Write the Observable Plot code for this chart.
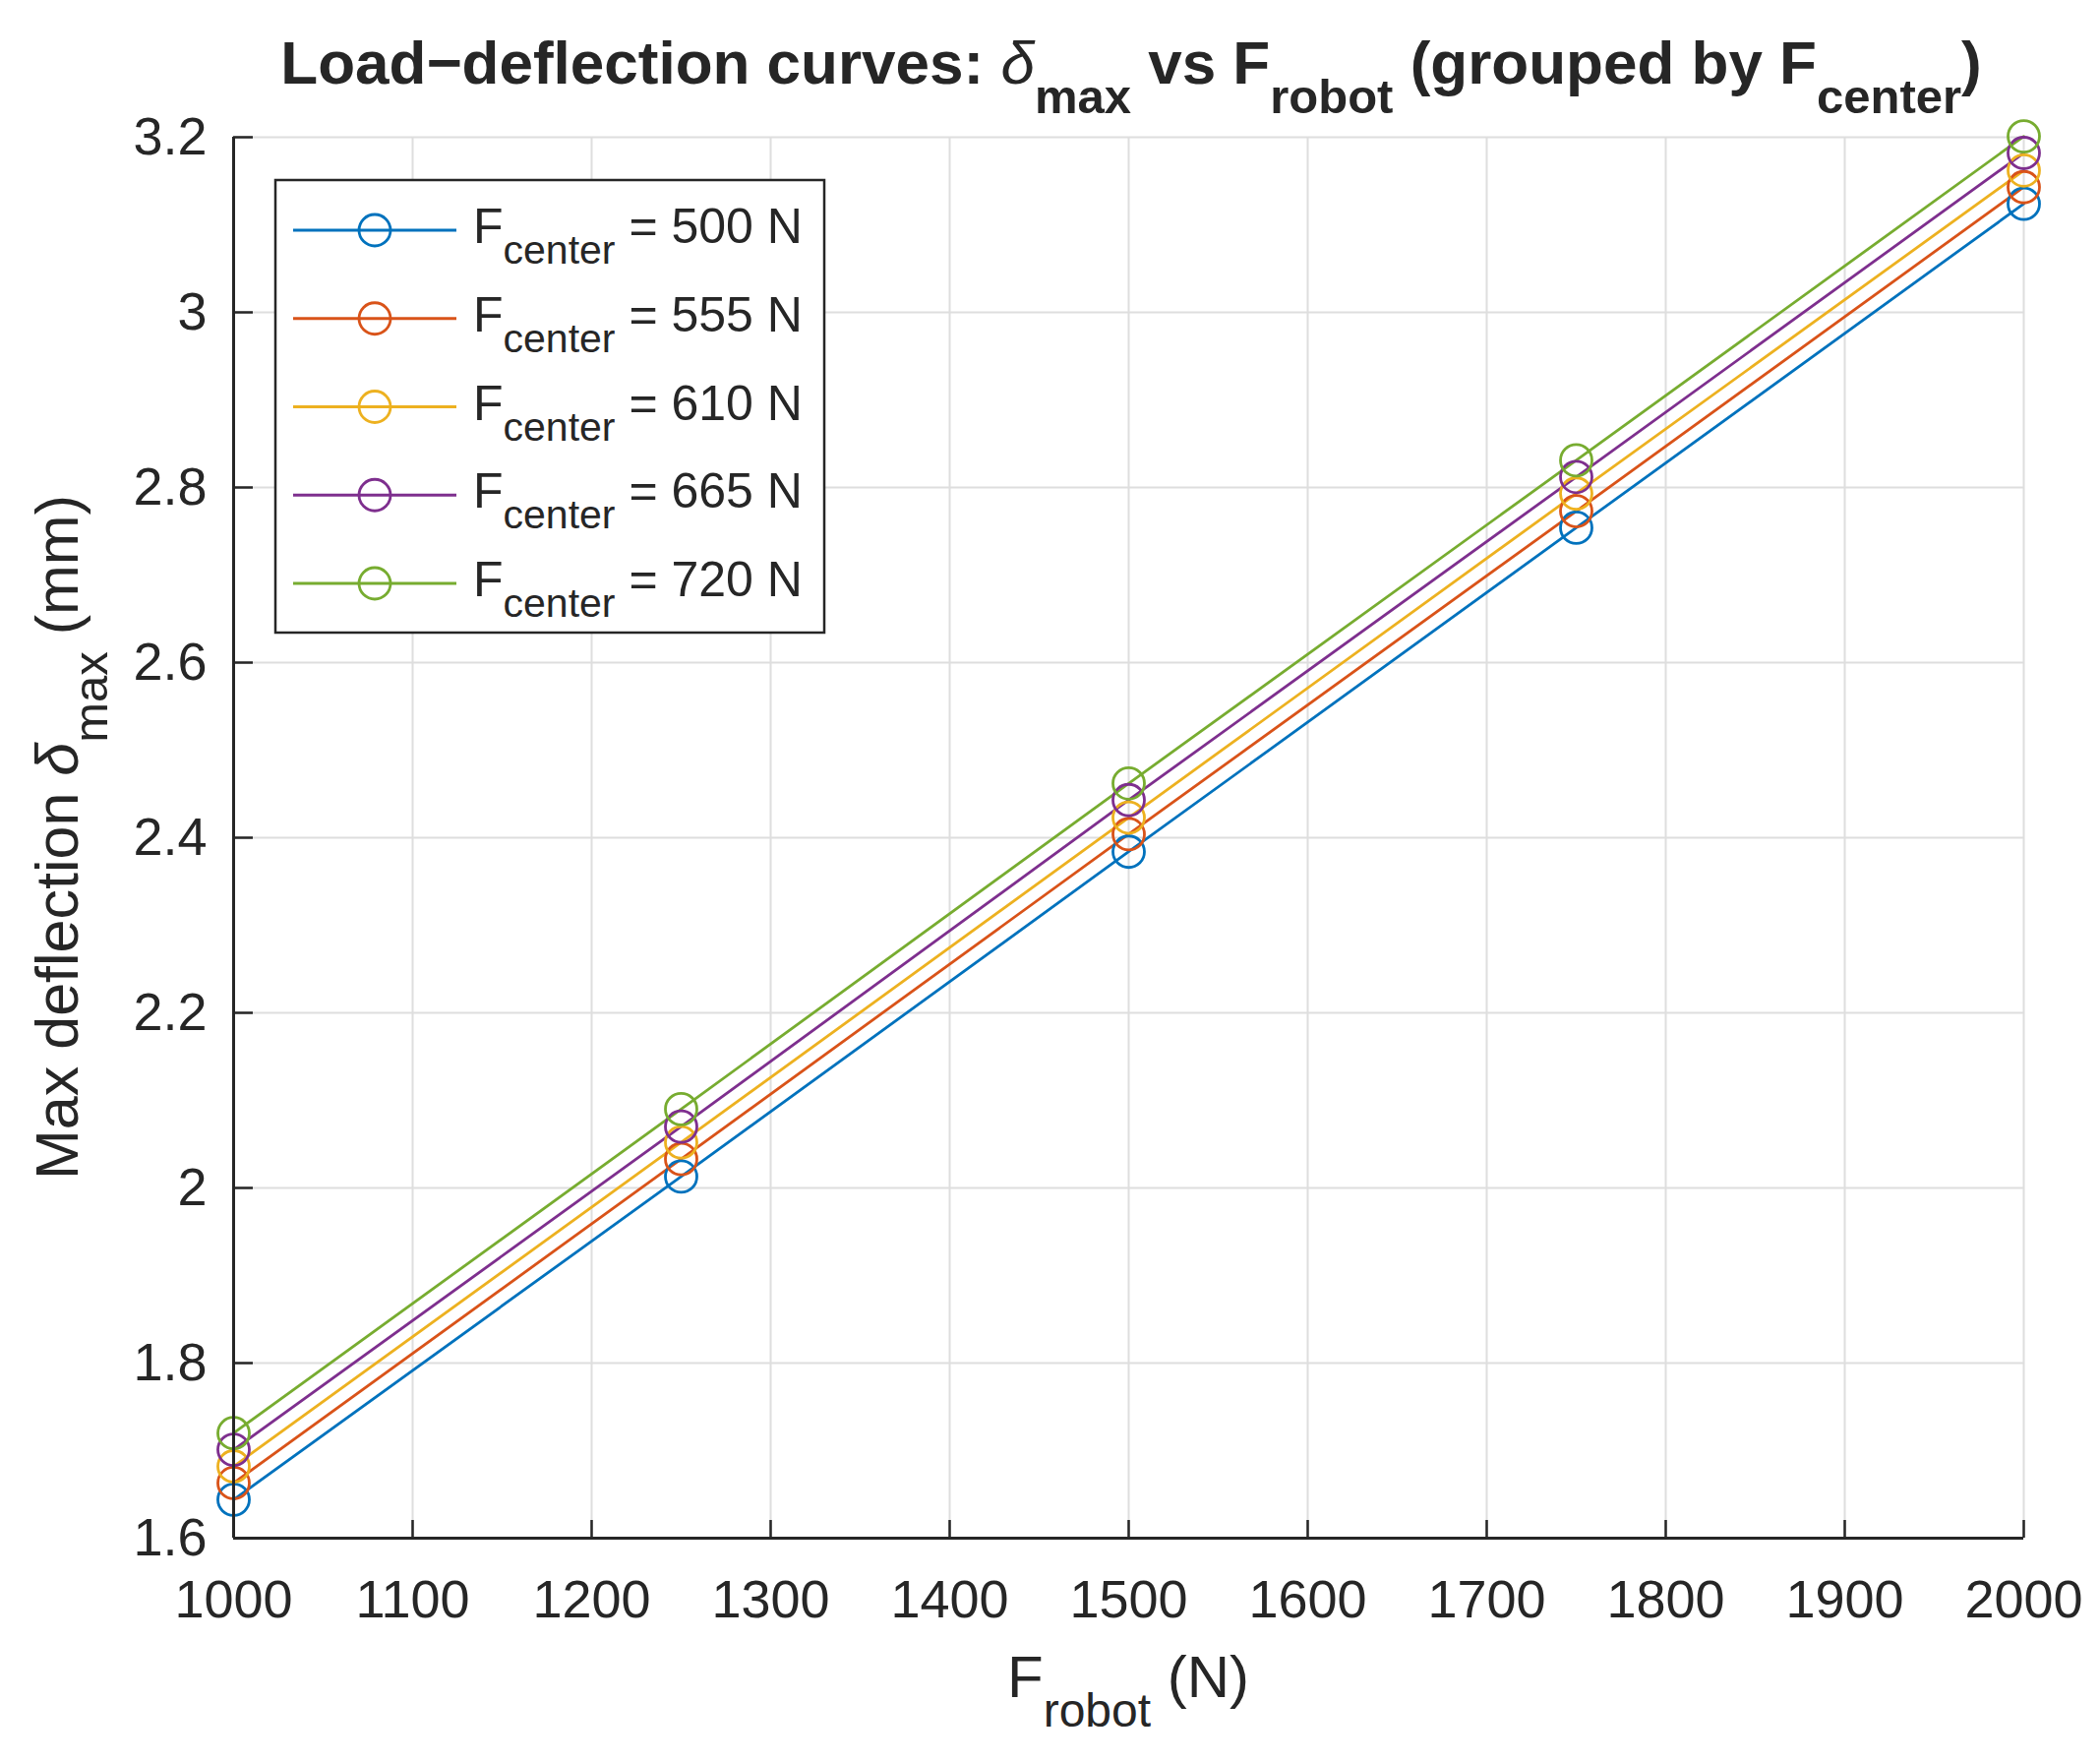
<!DOCTYPE html>
<html><head><meta charset="utf-8">
<script src="https://cdn.jsdelivr.net/npm/d3@7"></script>
<script src="https://cdn.jsdelivr.net/npm/@observablehq/plot@0.6"></script>
<style>
body{margin:0;background:#fff}
#chart{position:relative;width:2135px;height:1791px}
svg text{white-space:pre}
</style>
</head><body><div id="chart"></div>
<script>
// ---- data ----
const fRobot = [1000, 1250, 1500, 1750, 2000];
const fCenter = [500, 555, 610, 665, 720];
const delta500 = [1.644, 2.013, 2.384, 2.754, 3.124];
const delta555 = [1.663, 2.033, 2.404, 2.773, 3.143];
const delta610 = [1.682, 2.052, 2.423, 2.793, 3.162];
const delta665 = [1.701, 2.070, 2.443, 2.812, 3.182];
const delta720 = [1.720, 2.090, 2.462, 2.831, 3.201];
const xTicks = [1000, 1100, 1200, 1300, 1400, 1500, 1600, 1700, 1800, 1900, 2000];
const yTicks = [1.6, 1.8, 2, 2.2, 2.4, 2.6, 2.8, 3, 3.2];
const seriesColors = ["#0072BD", "#D95319", "#EDB120", "#7E2F8E", "#77AC30"];

const seriesValues = [delta500, delta555, delta610, delta665, delta720];
const rows = fCenter.flatMap((fc, i) => fRobot.map((fr, j) => ({fc, fr, d: seriesValues[i][j]})));

const font = "'Liberation Sans', Arial, Helvetica, sans-serif";
const ink = "#262626";
const gridColor = "#dedede";

const plot = Plot.plot({
  width: 2135, height: 1791,
  marginLeft: 237, marginRight: 78, marginTop: 139, marginBottom: 228,
  style: {fontFamily: font, background: "#fff", color: ink},
  x: {domain: [1000, 2000], label: null},
  y: {domain: [1.6, 3.2], label: null},
  color: {domain: fCenter, range: seriesColors},
  marks: [
    Plot.gridX(xTicks, {stroke: gridColor, strokeOpacity: 1, strokeWidth: 2}),
    Plot.gridY(yTicks, {stroke: gridColor, strokeOpacity: 1, strokeWidth: 2}),
    Plot.line(rows, {x: "fr", y: "d", z: "fc", stroke: "fc", strokeWidth: 2.8}),
    Plot.dot(rows, {x: "fr", y: "d", stroke: "fc", r: 16, strokeWidth: 2.8, fill: "none"}),
    Plot.ruleX([1000], {stroke: ink, strokeWidth: 3}),
    Plot.ruleY([1.6], {stroke: ink, strokeWidth: 3}),
    Plot.axisX(xTicks, {tickSize: -18, tickFormat: () => "", stroke: ink, strokeWidth: 2.5}),
    Plot.axisX(xTicks, {tickSize: 0, tickPadding: 42, fontSize: 54, fill: ink, tickFormat: d => String(d)}),
    Plot.axisY(yTicks, {tickSize: -20, tickFormat: () => "", stroke: ink, strokeWidth: 2.5}),
    Plot.axisY(yTicks, {tickSize: 0, tickPadding: 27, fontSize: 54, fill: ink, tickFormat: d => String(+d.toFixed(1))})
  ]
});
document.getElementById("chart").appendChild(plot);

const svg = d3.select(plot);
const colorScale = plot.scale("color");

function richText(g, parts, base) {
  const t = g.append("text")
    .attr("font-family", font).attr("fill", ink)
    .attr("font-size", base.size)
    .attr("text-anchor", base.anchor || "start");
  if (base.weight) t.attr("font-weight", base.weight);
  let shift = 0;
  for (const p of parts) {
    const ts = t.append("tspan").text(p.t);
    const target = p.sub ? base.subShift : 0;
    if (target !== shift) { ts.attr("dy", target - shift); shift = target; }
    ts.attr("font-size", p.sub ? base.subSize : base.size);
    if (p.italic) ts.attr("font-style", "italic").attr("font-weight", "normal");
  }
  return t;
}

// title
richText(svg.append("g"), [
  {t: "Load\u2212deflection curves: "}, {t: "\u03b4", italic: true}, {t: "max", sub: true},
  {t: " vs F"}, {t: "robot", sub: true}, {t: " (grouped by F"}, {t: "center", sub: true}, {t: ")"}
], {size: 62, subSize: 49, subShift: 30, weight: "bold", anchor: "middle"})
  .attr("x", 1150).attr("y", 85);

// x label
richText(svg.append("g"), [{t: "F"}, {t: "robot", sub: true}, {t: " (N)"}],
  {size: 60, subSize: 48, subShift: 30, anchor: "middle"})
  .attr("x", 1147).attr("y", 1725);

// y label
richText(svg.append("g").attr("transform", "translate(79,851) rotate(-90)"), [
  {t: "Max deflection "}, {t: "\u03b4", italic: true}, {t: "max", sub: true}, {t: " (mm)"}
], {size: 61, subSize: 49, subShift: 30, anchor: "middle"})
  .attr("x", 0).attr("y", 0);

// legend
const lg = svg.append("g");
lg.append("rect").attr("x", 280).attr("y", 183).attr("width", 558).attr("height", 460)
  .attr("fill", "#fff").attr("stroke", ink).attr("stroke-width", 2.5);
fCenter.forEach((fc, i) => {
  const y = 234 + i * 89.75;
  const c = colorScale.apply(fc);
  lg.append("line").attr("x1", 298).attr("x2", 464).attr("y1", y).attr("y2", y)
    .attr("stroke", c).attr("stroke-width", 2.8);
  lg.append("circle").attr("cx", 381).attr("cy", y).attr("r", 16)
    .attr("fill", "none").attr("stroke", c).attr("stroke-width", 2.8);
  richText(lg, [{t: "F"}, {t: "center", sub: true}, {t: ` = ${fc} N`}],
    {size: 50, subSize: 41, subShift: 21, anchor: "start"})
    .attr("x", 481).attr("y", y + 13);
});
</script>
</body></html>
